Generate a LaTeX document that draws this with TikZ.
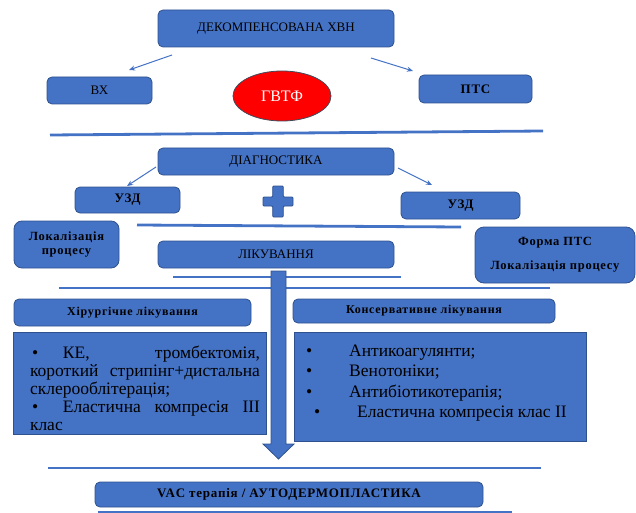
\documentclass[tikz,border=0pt]{standalone}
\usepackage{fontspec}
\setmainfont{Liberation Serif}
\usetikzlibrary{shapes.geometric,arrows.meta}
\definecolor{blu}{HTML}{4472C4}
\definecolor{bdr}{HTML}{2F528F}
\definecolor{lin}{HTML}{4472C4}
\definecolor{ell}{HTML}{3F4A5A}
\newcommand{\regf}{\fontsize{13}{15}\selectfont}
\newcommand{\bldf}{\fontsize{13}{15}\selectfont\bfseries\addfontfeatures{LetterSpace=6}}
\newcommand{\smbf}{\fontsize{12}{14}\selectfont\bfseries\addfontfeatures{LetterSpace=6}}
\newcommand{\listf}{\fontsize{17.5}{18}\selectfont}
\newcommand{\bul}{\makebox[33pt][l]{\hspace{2pt}•}}
\newcommand{\jline}[1]{\leavevmode\hbox to 230pt{#1}}
\begin{document}
\begin{tikzpicture}[x=1pt,y=-1pt,
  box/.style={draw=bdr, fill=blu, line width=0.8pt, rounded corners=5pt, inner sep=0pt, align=center, text=black},
  sqbox/.style={draw=bdr, fill=blu, line width=0.8pt, inner sep=0pt},
  rulel/.style={draw=lin, line width=2.8pt},
  conn/.style={draw=lin, line width=1pt, -{Stealth[length=6pt,width=5pt]}},
  txt/.style={inner sep=0pt, text=black}]
\useasboundingbox (0,0) rectangle (636,513);

% separator rules
\coordinate (r1a) at (50,135); \coordinate (r1b) at (543,131);
\coordinate (r2a) at (137,225); \coordinate (r2b) at (461,227);
\coordinate (r3a) at (173,277); \coordinate (r3b) at (401,277);
\coordinate (r4a) at (59,288); \coordinate (r4b) at (550,288);
\coordinate (r5a) at (48,468); \coordinate (r5b) at (541,468);
\coordinate (r6a) at (98,512); \coordinate (r6b) at (512,512);
\draw[rulel] (r1a) -- (r1b);
\draw[rulel] (r2a) -- (r2b);
\draw[rulel] (r3a) -- (r3b);
\draw[rulel] (r4a) -- (r4b);
\draw[rulel] (r5a) -- (r5b);
\draw[rulel] (r6a) -- (r6b);

% top level
\node[box, minimum width=236pt, minimum height=37pt, font=\regf] (dek) at (276,28.5) {\raisebox{2pt}{ДЕКОМПЕНСОВАНА ХВН}};
\node[box, minimum width=105pt, minimum height=27pt, font=\regf] (vx) at (99.5,90.5) {ВХ};
\node[box, minimum width=113pt, minimum height=28pt, font=\bldf] (pts) at (475.5,89) {ПТС};
\node[ellipse, draw=ell, line width=0.8pt, fill=red, minimum width=98pt, minimum height=50pt, inner sep=0pt, text=white, font=\fontsize{16}{18}\selectfont] (gvtf) at (282,96) {ГВТФ};

\coordinate (a1s) at (172,55); \coordinate (a1e) at (129,70);
\coordinate (a2s) at (371,58); \coordinate (a2e) at (413,71);
\draw[conn] (a1s) -- (a1e);
\draw[conn] (a2s) -- (a2e);

% diagnostics
\node[box, minimum width=236pt, minimum height=27pt, font=\regf] (diag) at (276,161.5) {ДІАГНОСТИКА};
\node[box, minimum width=105pt, minimum height=26pt, font=\bldf] (uzd1) at (127.5,200) {УЗД};
\node[box, minimum width=119pt, minimum height=27pt, font=\bldf] (uzd2) at (460.5,205.5) {УЗД};
\coordinate (a3s) at (156,167); \coordinate (a3e) at (127,186);
\coordinate (a4s) at (398,168); \coordinate (a4e) at (432,185);
\draw[conn] (a3s) -- (a3e);
\draw[conn] (a4s) -- (a4e);

% plus sign
\filldraw[fill=blu, draw=bdr, line width=0.8pt, rounded corners=1pt]
  (272.7,186) -- (283.3,186) -- (283.3,197) -- (293,197) -- (293,206) -- (283.3,206)
  -- (283.3,217) -- (272.7,217) -- (272.7,206) -- (263,206) -- (263,197) -- (272.7,197) -- cycle;

\node[box, rounded corners=8pt, minimum width=105pt, minimum height=47pt, font=\fontsize{12.5}{14.5}\selectfont\bfseries\addfontfeatures{LetterSpace=6}] (loc) at (66.5,244.5) {Локалізація\\процесу};
\node[box, minimum width=236pt, minimum height=27pt, font=\regf] (likuv) at (276,254.5) {ЛІКУВАННЯ};
\node[box, rounded corners=9pt, minimum width=160pt, minimum height=56pt, font=\fontsize{12.5}{24}\selectfont\bfseries\addfontfeatures{LetterSpace=6}] (forma) at (555,255) {Форма ПТС\\Локалізація процесу};

% big down arrow
\filldraw[fill=blu, draw=bdr, line width=0.8pt]
  (271,271) -- (286,271) -- (286,444) -- (294,444) -- (278.5,459) -- (263,444) -- (271,444) -- cycle;

% treatment branches
\node[box, minimum width=237pt, minimum height=27pt, font=\smbf] (hir) at (132.5,312.5) {Хірургічне лікування};
\node[box, minimum width=262pt, minimum height=24pt, font=\smbf] (kons) at (424,311) {Консервативне лікування};

\node[sqbox, minimum width=253pt, minimum height=102pt] (leftbox) at (139.5,383) {};
\node[txt, font=\listf, align=left, text width=230pt] (lefttext) at (145,388) {%
\jline{\bul КЕ,\hfill тромбектомія,}\\
\jline{короткий\hfill стрипінг+дистальна}\\
склерооблітерація;\\
\jline{\bul Еластична\hfill компресія\hfill III}\\
клас};

\node[sqbox, minimum width=292pt, minimum height=109pt] (rightbox) at (440,386.5) {};
\node[txt, font=\fontsize{17.5}{20.5}\selectfont, align=left, anchor=west] (righttext) at (306,383) {%
\makebox[43pt][l]{•}Антикоагулянти;\\
\makebox[43pt][l]{•}Венотоніки;\\
\makebox[43pt][l]{•}Антибіотикотерапія;\\
\hspace{8pt}\makebox[43pt][l]{•}Еластична компресія клас ІІ};

% bottom
\node[box, minimum width=388pt, minimum height=25pt, font=\bldf] (vac) at (289,494.5) {VAC терапія / АУТОДЕРМОПЛАСТИКА};
\end{tikzpicture}
\end{document}
